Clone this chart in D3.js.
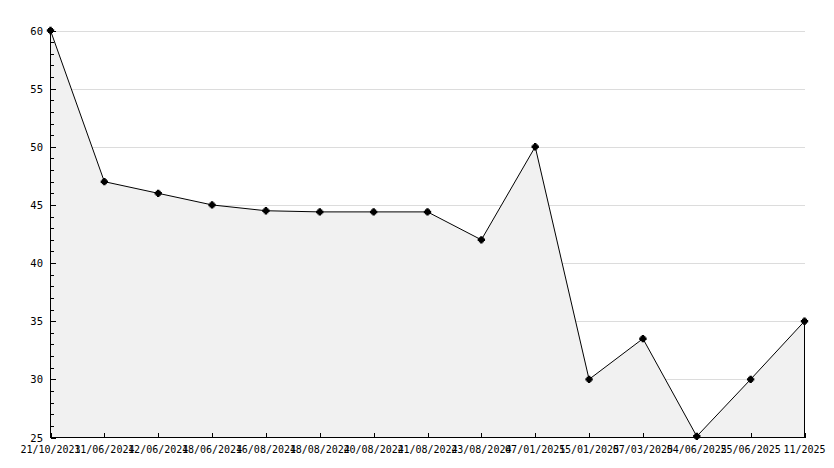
<!DOCTYPE html>
<html><head><meta charset="utf-8">
<script src="https://cdn.jsdelivr.net/npm/d3@7"></script>
<style>body{margin:0;background:#fff}svg{display:block}</style>
</head><body>
<svg id="c" width="834" height="468"></svg>
<script>
const categories = ["21/10/2023","11/06/2024","12/06/2024","18/06/2024","16/08/2024","18/08/2024","20/08/2024","21/08/2024","23/08/2024","07/01/2025","15/01/2025","07/03/2025","04/06/2025","25/06/2025","11/2025"];
const values = [60,47,46,45,44.5,44.4,44.4,44.4,42,50,30,33.5,25.1,30,35];
const yTicks = [25,30,35,40,45,50,55,60];

const svg = d3.select("#c");
const L=50.5, R=804.5, T=30.5, B=437.5;
const x = d3.scalePoint().domain(categories).range([L,R]);
const y = d3.scaleLinear().domain([25,60]).range([B,T]);
const font = "DejaVu Sans Mono, monospace";

// grid
svg.append("g").selectAll("line").data(yTicks.filter(d=>d>25)).join("line")
  .attr("x1",L).attr("x2",R).attr("y1",d=>Math.round(y(d))+0.5).attr("y2",d=>Math.round(y(d))+0.5)
  .attr("stroke","#dcdcdc").attr("shape-rendering","crispEdges");

const data = categories.map((c,i)=>({c,v:values[i]}));
// area
svg.append("path").datum(data)
  .attr("d", d3.area().x(d=>x(d.c)).y0(B).y1(d=>y(d.v)))
  .attr("fill","#f1f1f1");
// right edge
svg.append("line").attr("x1",R).attr("x2",R).attr("y1",y(values[values.length-1])).attr("y2",B)
  .attr("stroke","#000").attr("shape-rendering","crispEdges");
// line
svg.append("path").datum(data)
  .attr("d", d3.line().x(d=>x(d.c)).y(d=>y(d.v)))
  .attr("fill","none").attr("stroke","#000").attr("stroke-width",1);

// y axis
const yAxis = svg.append("g").attr("shape-rendering","crispEdges");
yAxis.append("line").attr("x1",L).attr("x2",L).attr("y1",T).attr("y2",B).attr("stroke","#000");
const minor = d3.range(25,61,1);
yAxis.selectAll("line.m").data(minor).join("line").attr("class","m")
  .attr("x1",L).attr("x2",d=>d%5===0?L+5:L+3)
  .attr("y1",d=>Math.round(y(d))+0.5).attr("y2",d=>Math.round(y(d))+0.5).attr("stroke","#000");
yAxis.selectAll("text").data(yTicks).join("text")
  .attr("x",43).attr("y",d=>y(d)+4).attr("text-anchor","end")
  .attr("font-family",font).attr("font-size",10.5).attr("fill","#000").text(d=>d);

// x axis
const xAxis = svg.append("g").attr("shape-rendering","crispEdges");
xAxis.append("line").attr("x1",L).attr("x2",R).attr("y1",B).attr("y2",B).attr("stroke","#000");
xAxis.selectAll("line.t").data(categories).join("line").attr("class","t")
  .attr("x1",d=>Math.round(x(d))+0.5).attr("x2",d=>Math.round(x(d))+0.5)
  .attr("y1",B).attr("y2",B-5).attr("stroke","#000");
xAxis.selectAll("text").data(categories).join("text")
  .attr("x",d=>x(d)).attr("y",B+15).attr("text-anchor","middle")
  .attr("font-family",font).attr("font-size",10).attr("fill","#000").text(d=>d);

// markers
svg.append("g").selectAll("path").data(data).join("path")
  .attr("transform",d=>`translate(${x(d.c)},${y(d.v)})`)
  .attr("d", d3.symbol(d3.symbolCross, 30)())
  .attr("fill","#000");
svg.append("g").selectAll("rect").data(data).join("rect")
  .attr("x",d=>x(d.c)-2.5).attr("y",d=>y(d.v)-2.5).attr("width",5).attr("height",5).attr("fill","#000");
</script>
</body></html>
